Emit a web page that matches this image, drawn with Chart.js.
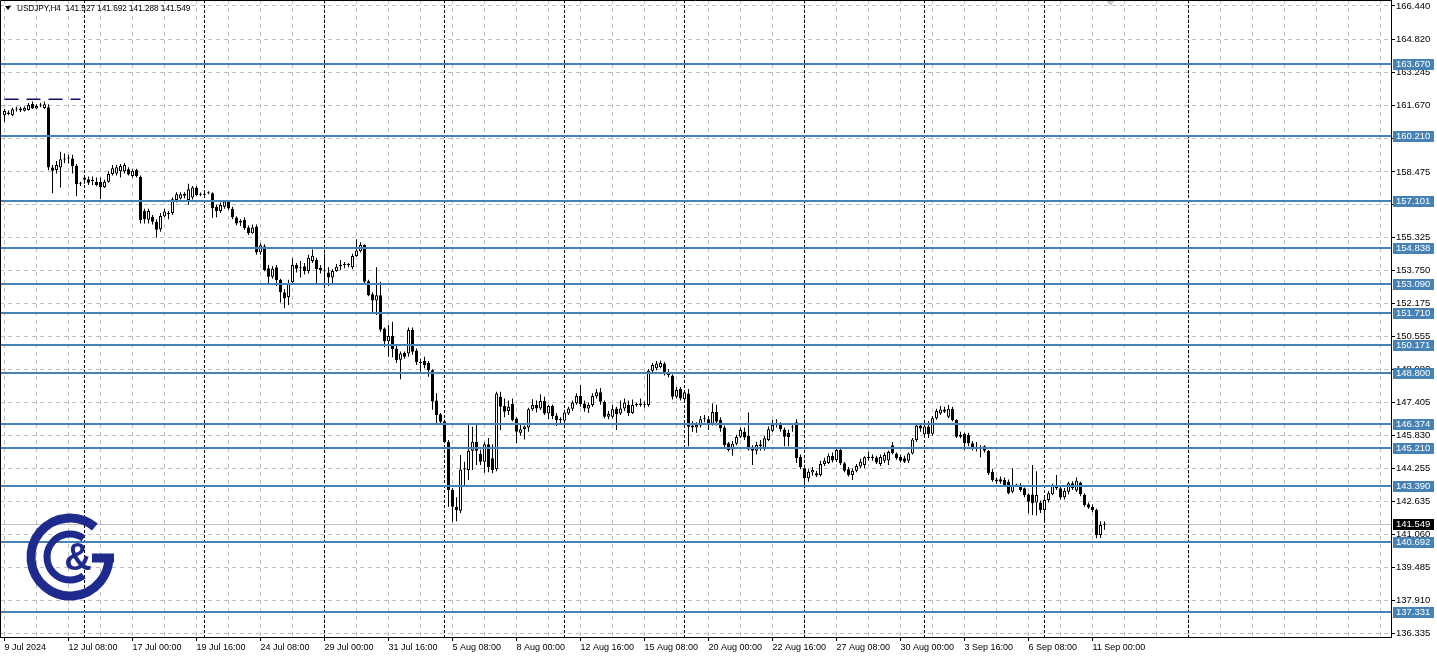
<!DOCTYPE html>
<html>
<head>
<meta charset="utf-8">
<script src="https://cdn.jsdelivr.net/npm/chart.js@4.4.1/dist/chart.umd.min.js"></script>
<style>
  html, body { margin: 0; padding: 0; background: #fff; }
  #wrap { width: 1437px; height: 657px; }
</style>
</head>
<body>
<div id="wrap"><canvas id="chart" width="1437" height="657"></canvas></div>
<script>
// USDJPY H4 candles, 9 Jul 16:00 .. 11 Sep 12:00
const opens = [
  161.20,161.33,161.19,161.47,161.42,161.41,161.45,161.73,161.52,161.66,
  161.54,161.58,158.68,158.57,158.68,159.07,159.12,159.12,158.77,157.88,
  158.20,158.12,158.06,158.00,158.00,157.74,158.00,158.37,158.40,158.50,
  158.50,158.60,158.28,158.57,158.24,156.60,156.18,156.32,156.08,155.72,
  156.35,156.45,156.50,157.13,157.20,157.42,157.12,157.25,157.72,157.40,
  157.38,157.45,157.45,156.80,156.60,156.80,157.05,156.70,156.29,156.13,
  156.18,155.80,155.53,155.85,154.62,154.90,153.85,153.44,153.90,153.30,
  152.70,152.47,153.18,154.00,153.85,153.95,153.72,154.20,154.25,153.87,
  153.70,153.65,153.40,153.72,153.95,154.00,154.02,153.90,154.44,154.67,
  154.96,153.22,152.60,152.30,152.55,150.95,150.34,150.60,150.00,149.45,
  149.78,149.75,150.90,149.90,149.35,149.40,149.30,148.95,147.50,146.84,
  146.50,145.52,143.20,142.40,142.20,144.18,144.16,145.09,145.52,144.93,
  144.56,145.40,144.72,144.20,147.68,147.24,147.00,147.33,146.64,145.95,
  146.13,146.20,147.08,147.28,147.12,147.48,146.88,147.24,146.78,146.60,
  146.53,146.88,147.10,147.37,147.72,147.36,147.12,147.28,147.70,147.90,
  147.44,146.72,146.72,147.12,146.88,147.12,147.28,146.90,147.28,147.28,
  147.33,147.28,148.93,149.05,149.10,149.28,148.85,148.70,147.68,148.05,
  147.56,147.84,146.20,146.20,146.30,146.60,146.60,146.38,146.95,146.56,
  146.20,145.44,145.15,145.42,145.76,146.00,145.80,145.24,145.08,145.30,
  145.16,145.60,146.05,146.38,146.38,146.10,145.95,146.20,146.45,144.80,
  144.25,143.76,144.04,144.00,143.92,144.45,144.50,144.84,144.64,145.12,
  144.48,144.20,143.92,144.13,144.33,144.40,144.74,144.80,144.76,144.45,
  144.60,144.62,145.35,144.95,144.78,144.72,144.60,144.95,145.60,146.30,
  145.88,146.25,145.90,146.65,146.88,147.07,146.72,147.10,146.56,145.76,
  145.90,145.84,145.44,145.20,145.24,145.30,145.08,144.08,143.70,143.72,
  143.68,143.60,143.12,143.44,143.42,143.28,142.98,142.98,142.60,142.60,
  142.24,142.72,143.00,143.40,143.28,142.85,143.12,143.52,143.18,143.56,
  142.96,142.52,142.40,142.24,141.04,141.527
];
const highs = [
  161.50,161.42,161.55,161.60,161.60,161.62,161.78,161.85,161.72,161.78,
  161.85,161.72,158.80,159.00,159.44,159.36,159.30,159.30,158.85,158.00,
  158.30,158.25,158.25,158.20,158.20,158.10,158.50,158.80,158.80,158.85,
  158.90,158.70,158.60,158.62,158.30,156.70,156.70,156.40,156.20,156.50,
  156.70,156.60,157.25,157.50,157.50,157.50,157.90,157.80,157.80,157.48,
  157.50,157.55,157.50,156.90,157.00,157.10,157.10,156.80,156.35,156.20,
  156.30,155.90,155.95,155.95,155.05,155.00,154.00,153.95,154.00,153.35,
  152.85,153.30,154.33,154.10,154.20,154.10,154.50,154.75,154.35,154.00,
  154.55,153.90,153.80,154.05,154.25,154.15,154.10,154.55,155.24,155.10,
  155.00,153.30,152.70,153.90,153.20,151.00,151.12,151.28,150.20,149.85,
  149.85,151.00,151.00,150.00,149.50,149.60,149.40,149.00,147.85,146.90,
  146.57,145.60,143.30,142.85,144.88,144.56,146.32,146.24,146.32,145.13,
  145.50,145.70,145.40,147.92,147.92,147.60,147.50,147.60,146.70,146.40,
  146.30,147.15,147.56,147.50,147.80,147.68,147.30,147.30,146.90,146.70,
  147.05,147.20,147.50,147.85,148.24,147.50,147.40,147.85,148.05,148.10,
  147.50,147.00,147.30,147.20,147.50,147.60,147.50,147.55,147.40,147.60,
  147.45,149.00,149.30,149.40,149.42,149.35,149.00,148.75,148.15,148.15,
  148.00,148.05,146.50,146.45,146.75,146.80,146.75,147.36,147.28,146.70,
  146.30,145.50,145.55,145.85,146.20,146.20,146.92,145.35,145.52,145.60,
  145.80,146.25,146.56,146.60,146.45,146.20,146.10,146.35,146.60,144.90,
  144.30,144.20,144.30,144.12,144.60,144.75,144.95,145.00,145.20,145.20,
  144.55,144.30,144.25,144.45,144.70,144.82,145.04,144.90,144.85,144.90,
  145.00,145.10,145.50,145.00,144.90,144.85,145.00,145.70,146.42,146.40,
  146.35,146.50,146.75,147.10,147.24,147.20,147.28,147.20,146.60,146.00,
  145.95,145.95,145.55,145.50,145.35,145.35,145.12,144.20,143.80,143.85,
  143.80,143.70,144.24,143.50,143.52,143.32,143.05,144.40,144.10,142.70,
  142.80,143.15,143.50,143.92,143.35,143.30,143.60,143.62,143.80,143.60,
  143.05,142.60,142.50,142.30,141.70,141.692
];
const lows = [
  160.88,161.20,161.15,161.38,161.35,161.38,161.42,161.50,161.48,161.58,
  161.50,158.55,157.45,158.40,157.72,158.89,158.88,158.40,157.30,157.80,
  157.90,157.85,157.85,157.78,157.16,157.70,157.95,158.30,158.30,158.20,
  158.40,158.30,158.20,158.20,156.00,156.00,156.00,155.95,155.33,155.60,
  156.30,156.20,156.40,157.00,157.15,157.20,156.90,157.15,157.30,157.30,
  157.33,157.40,156.26,156.30,156.50,156.70,156.65,156.20,155.90,155.88,
  155.70,155.45,155.50,154.50,154.50,153.70,153.12,153.35,153.00,152.20,
  151.93,152.08,153.10,153.65,153.40,153.55,153.60,154.10,153.05,153.60,
  153.05,153.00,153.12,153.68,153.75,153.85,153.90,153.80,154.40,154.60,
  153.10,152.50,151.70,151.60,150.80,150.05,149.60,149.57,149.30,148.52,
  149.50,149.60,149.70,149.20,148.88,149.05,148.64,147.05,146.40,146.42,
  145.45,142.40,141.68,141.70,142.08,143.36,143.68,144.16,144.40,144.40,
  144.03,144.05,144.00,144.10,146.08,146.70,146.80,146.50,145.44,145.80,
  145.62,146.00,147.00,146.92,147.04,146.80,146.60,146.60,146.27,146.40,
  146.45,146.80,147.00,147.30,147.20,146.96,146.90,147.20,147.60,147.30,
  146.65,146.60,146.65,146.08,146.80,147.00,146.75,146.85,147.20,147.20,
  147.15,147.20,148.80,148.95,149.05,148.70,148.60,147.55,147.60,147.50,
  147.50,145.30,146.00,145.95,146.20,146.45,146.08,146.30,146.30,146.00,
  145.25,145.05,144.85,145.35,145.70,145.60,145.10,144.40,144.90,145.10,
  145.10,145.55,145.98,146.20,146.00,145.30,145.30,146.00,144.50,144.20,
  143.44,143.60,143.88,143.82,143.85,144.35,144.45,144.52,144.55,144.40,
  144.05,143.85,143.68,144.05,144.25,144.25,144.60,144.60,144.45,144.35,
  144.50,144.40,144.90,144.65,144.52,144.50,144.50,144.90,145.50,146.00,
  145.80,145.70,145.80,146.58,146.80,146.90,146.65,146.50,145.70,145.68,
  145.12,145.30,145.10,145.05,144.76,145.00,143.92,143.60,143.50,143.50,
  143.40,143.00,143.05,143.35,143.12,142.85,142.08,142.00,141.98,142.10,
  141.76,142.60,142.95,143.20,142.75,142.75,143.00,143.20,143.10,142.90,
  142.40,142.30,142.15,140.88,140.90,141.288
];
const closes = [
  161.40,161.25,161.48,161.50,161.52,161.56,161.69,161.52,161.64,161.68,
  161.72,158.68,158.53,158.80,159.08,159.10,159.15,158.75,157.88,157.90,
  158.10,157.95,158.04,157.85,157.74,158.00,158.37,158.65,158.70,158.76,
  158.80,158.35,158.53,158.28,156.17,156.20,156.60,156.08,155.70,156.36,
  156.57,156.50,157.16,157.40,157.40,157.33,157.64,157.72,157.37,157.38,
  157.42,157.48,156.73,156.60,156.88,157.05,156.72,156.30,156.00,156.05,
  155.77,155.53,155.80,154.60,154.95,153.76,153.44,153.82,153.28,152.70,
  152.40,153.10,154.00,153.82,153.90,153.72,154.35,154.45,153.80,153.75,
  153.75,153.42,153.72,153.92,154.00,154.02,154.00,154.44,154.70,154.96,
  153.20,152.55,152.30,152.55,150.90,150.34,150.60,149.97,149.44,149.75,
  149.60,150.88,149.84,149.35,149.30,149.20,148.95,147.45,146.80,146.48,
  145.50,143.20,142.40,142.24,144.18,144.25,145.09,145.52,145.09,144.56,
  145.40,144.30,144.16,147.84,147.20,146.96,147.20,146.56,146.00,146.12,
  146.25,147.08,147.28,147.12,147.48,146.88,147.24,146.76,146.56,146.56,
  146.92,147.12,147.40,147.72,147.33,147.12,147.28,147.72,147.90,147.44,
  146.72,146.85,147.08,146.84,147.12,147.40,146.90,147.28,147.30,147.36,
  147.30,148.93,149.20,149.28,149.30,148.84,148.72,147.68,148.00,147.60,
  147.90,146.24,146.30,146.32,146.60,146.63,146.36,146.95,146.48,146.17,
  145.36,145.12,145.42,145.74,146.08,145.72,145.15,145.08,145.36,145.38,
  145.68,146.12,146.32,146.40,146.12,145.76,145.75,146.24,144.72,144.30,
  143.76,144.08,144.17,143.90,144.45,144.60,144.84,144.62,145.12,144.48,
  144.13,143.92,144.12,144.35,144.56,144.77,144.80,144.74,144.52,144.78,
  144.88,145.02,144.96,144.72,144.60,144.56,144.95,145.62,146.30,146.15,
  146.25,145.88,146.65,147.00,147.07,146.96,147.10,146.56,145.76,145.85,
  145.44,145.44,145.20,145.24,145.20,145.08,144.00,143.68,143.62,143.60,
  143.44,143.04,143.44,143.42,143.20,142.96,142.64,142.56,142.96,142.24,
  142.72,143.04,143.40,143.28,142.84,143.15,143.52,143.28,143.64,143.00,
  142.48,142.36,142.24,141.04,141.52,141.549
];

// time axis labels, one every 16 bars
const timeLabels = ['9 Jul 2024','12 Jul 08:00','17 Jul 00:00','19 Jul 16:00','24 Jul 08:00',
  '29 Jul 00:00','31 Jul 16:00','5 Aug 08:00','8 Aug 00:00','12 Aug 16:00','15 Aug 08:00',
  '20 Aug 00:00','22 Aug 16:00','27 Aug 08:00','30 Aug 00:00','3 Sep 16:00','6 Sep 08:00','11 Sep 00:00'];
const labelStep = 16;
const gridStep = 8;

// price axis ticks
const priceTicks = [166.440,164.820,163.245,161.670,160.095,158.475,156.900,155.325,153.750,
  152.175,150.555,148.980,147.405,145.830,144.255,142.635,141.060,139.485,137.910,136.335];

// horizontal levels drawn on the chart
const levels = [163.670,160.210,157.101,154.838,153.090,151.710,150.171,148.800,
  146.374,145.210,143.390,140.692,137.331];

// week separators (bar index of Monday 00:00)
const weekStarts = [20,50,80,110,140,170,200,230,260,296];

const symbolName = 'USDJPY,H4';
const n = closes.length;
const lastPrice = closes[n - 1];

const FONT = 'Liberation Sans';
Chart.defaults.font.family = FONT;
Chart.defaults.font.size = 9;
Chart.defaults.color = '#000';

const idx = closes.map((_, i) => i);

const overlay = {
  id: 'overlay',
  beforeDatasetsDraw(chart) {
    const { ctx, chartArea: a, scales: { x, y } } = chart;
    ctx.save();
    ctx.lineWidth = 1;
    ctx.strokeStyle = '#000';
    ctx.setLineDash([3, 2]);
    weekStarts.forEach(b => {
      const px = Math.round(x.getPixelForValue(b) - 0.5) + 0.5;
      ctx.beginPath(); ctx.moveTo(px, a.top); ctx.lineTo(px, a.bottom); ctx.stroke();
    });
    ctx.setLineDash([]);
    ctx.strokeStyle = '#c0c0c0';
    const py = Math.round(y.getPixelForValue(lastPrice)) + 0.5;
    ctx.beginPath(); ctx.moveTo(a.left, py); ctx.lineTo(a.right, py); ctx.stroke();
    ctx.restore();
  },
  afterDatasetsDraw(chart) {
    const { ctx, chartArea: a, scales: { y } } = chart;
    ctx.save();
    ctx.strokeStyle = '#4682b4';
    ctx.lineWidth = 2;
    levels.forEach(l => {
      const py = Math.round(y.getPixelForValue(l));
      ctx.beginPath(); ctx.moveTo(a.left, py); ctx.lineTo(a.right, py); ctx.stroke();
    });
    ctx.restore();
  },
  afterDraw(chart) {
    const { ctx, chartArea: a, scales: { x, y } } = chart;
    ctx.save();
    // left / top frame
    ctx.strokeStyle = '#000';
    ctx.lineWidth = 1;
    ctx.beginPath();
    ctx.moveTo(0.5, a.bottom); ctx.lineTo(0.5, 0.5); ctx.lineTo(a.right, 0.5);
    ctx.stroke();

    // price boxes on the right axis
    ctx.font = '9.5px ' + FONT;
    ctx.textBaseline = 'middle';
    ctx.textAlign = 'left';
    const box = (v, bg) => {
      const py = Math.round(y.getPixelForValue(v));
      ctx.fillStyle = bg;
      ctx.fillRect(a.right + 2, py - 5, 41, 11);
      ctx.fillStyle = '#fff';
      ctx.fillText(v.toFixed(3), a.right + 5, py + 0.5);
    };
    levels.forEach(l => box(l, '#4682b4'));
    box(lastPrice, '#000');

    // header
    ctx.fillStyle = '#000';
    ctx.beginPath(); ctx.moveTo(5, 6); ctx.lineTo(11, 6); ctx.lineTo(8, 10); ctx.closePath(); ctx.fill();
    const ohlc = [opens[n - 1], highs[n - 1], lows[n - 1], closes[n - 1]].map(v => v.toFixed(3)).join(' ');
    ctx.save();
    ctx.font = '9.5px ' + FONT;
    ctx.translate(17, 8.5);
    ctx.scale(0.86, 1);
    ctx.fillText(symbolName + '  ' + ohlc, 0, 0);
    ctx.restore();

    // chart shift marker
    const sx = x.getPixelForValue(276.5);
    ctx.fillStyle = '#c8c8c8';
    ctx.beginPath(); ctx.moveTo(sx - 4, 1); ctx.lineTo(sx + 4, 1); ctx.lineTo(sx, 6); ctx.closePath(); ctx.fill();

    // logo
    const cx = 70, cy = 557;
    ctx.strokeStyle = '#1f2b8c';
    ctx.fillStyle = '#1f2b8c';
    ctx.lineWidth = 9;
    ctx.beginPath(); ctx.arc(cx, cy, 39, -0.28 * Math.PI, 0.02 * Math.PI, true); ctx.stroke();
    ctx.beginPath(); ctx.moveTo(cx + 22, cy + 1); ctx.lineTo(cx + 44, cy + 1); ctx.stroke();
    ctx.lineWidth = 7;
    ctx.beginPath(); ctx.arc(cx, cy, 23, -0.3 * Math.PI, 0.3 * Math.PI, true); ctx.stroke();
    ctx.font = 'bold 38px ' + FONT;
    ctx.textAlign = 'center';
    ctx.fillText('&', cx + 8, cy + 3);
    ctx.restore();
  }
};

new Chart(document.getElementById('chart'), {
  type: 'bar',
  data: {
    datasets: [
      {
        label: 'body',
        data: idx.map(i => ({ x: i, y: [opens[i], closes[i]] })),
        backgroundColor: idx.map(i => closes[i] >= opens[i] ? '#fff' : '#000'),
        borderColor: '#000',
        borderWidth: 1,
        borderSkipped: false,
        barThickness: 3,
        minBarLength: 1,
        inflateAmount: 0,
        grouped: false,
        order: 1
      },
      {
        label: 'wick',
        data: idx.map(i => ({ x: i, y: [lows[i], highs[i]] })),
        backgroundColor: '#000',
        borderWidth: 0,
        barThickness: 1,
        inflateAmount: 0,
        grouped: false,
        order: 2
      },
      {
        type: 'line',
        label: 'mark',
        data: [{ x: 0, y: 161.96 }, { x: 19, y: 161.96 }],
        borderColor: '#10106a',
        borderWidth: 1.5,
        borderDash: [14, 8],
        pointRadius: 0,
        order: 0
      }
    ]
  },
  options: {
    responsive: false,
    animation: false,
    devicePixelRatio: 1,
    layout: { padding: 0 },
    plugins: { legend: { display: false }, tooltip: { enabled: false } },
    scales: {
      x: {
        type: 'linear',
        offset: false,
        min: -1.125,
        max: 346.625,
        afterBuildTicks: s => {
          const t = [];
          for (let v = 0; v <= 344; v += gridStep) t.push({ value: v });
          s.ticks = t;
        },
        afterFit: s => { s.height = 20; s.paddingLeft = 0; s.paddingRight = 0; },
        ticks: {
          autoSkip: false,
          maxRotation: 0,
          minRotation: 0,
          align: 'start',
          padding: 1,
          callback: v => (v % labelStep === 0 && v / labelStep < timeLabels.length) ? timeLabels[v / labelStep] : ''
        },
        grid: {
          offset: false,
          color: '#c0c0c0',
          tickLength: 4,
          tickColor: c => (c.tick && c.tick.value % labelStep === 0 && c.tick.value / labelStep < timeLabels.length) ? '#000' : 'rgba(0,0,0,0)'
        },
        border: { color: '#000', dash: [4, 4] }
      },
      y: {
        position: 'right',
        min: 136.143,
        max: 166.728,
        afterBuildTicks: s => { s.ticks = priceTicks.map(v => ({ value: v })); },
        afterFit: s => { s.width = 46; s.paddingTop = 0; s.paddingBottom = 0; },
        ticks: {
          padding: 1,
          crossAlign: 'near',
          font: { size: 9.5 },
          callback: v => v.toFixed(3)
        },
        grid: { color: '#c0c0c0', tickLength: 4, tickColor: '#000' },
        border: { color: '#000', dash: [4, 4] }
      }
    }
  },
  plugins: [overlay]
});
</script>
</body>
</html>
